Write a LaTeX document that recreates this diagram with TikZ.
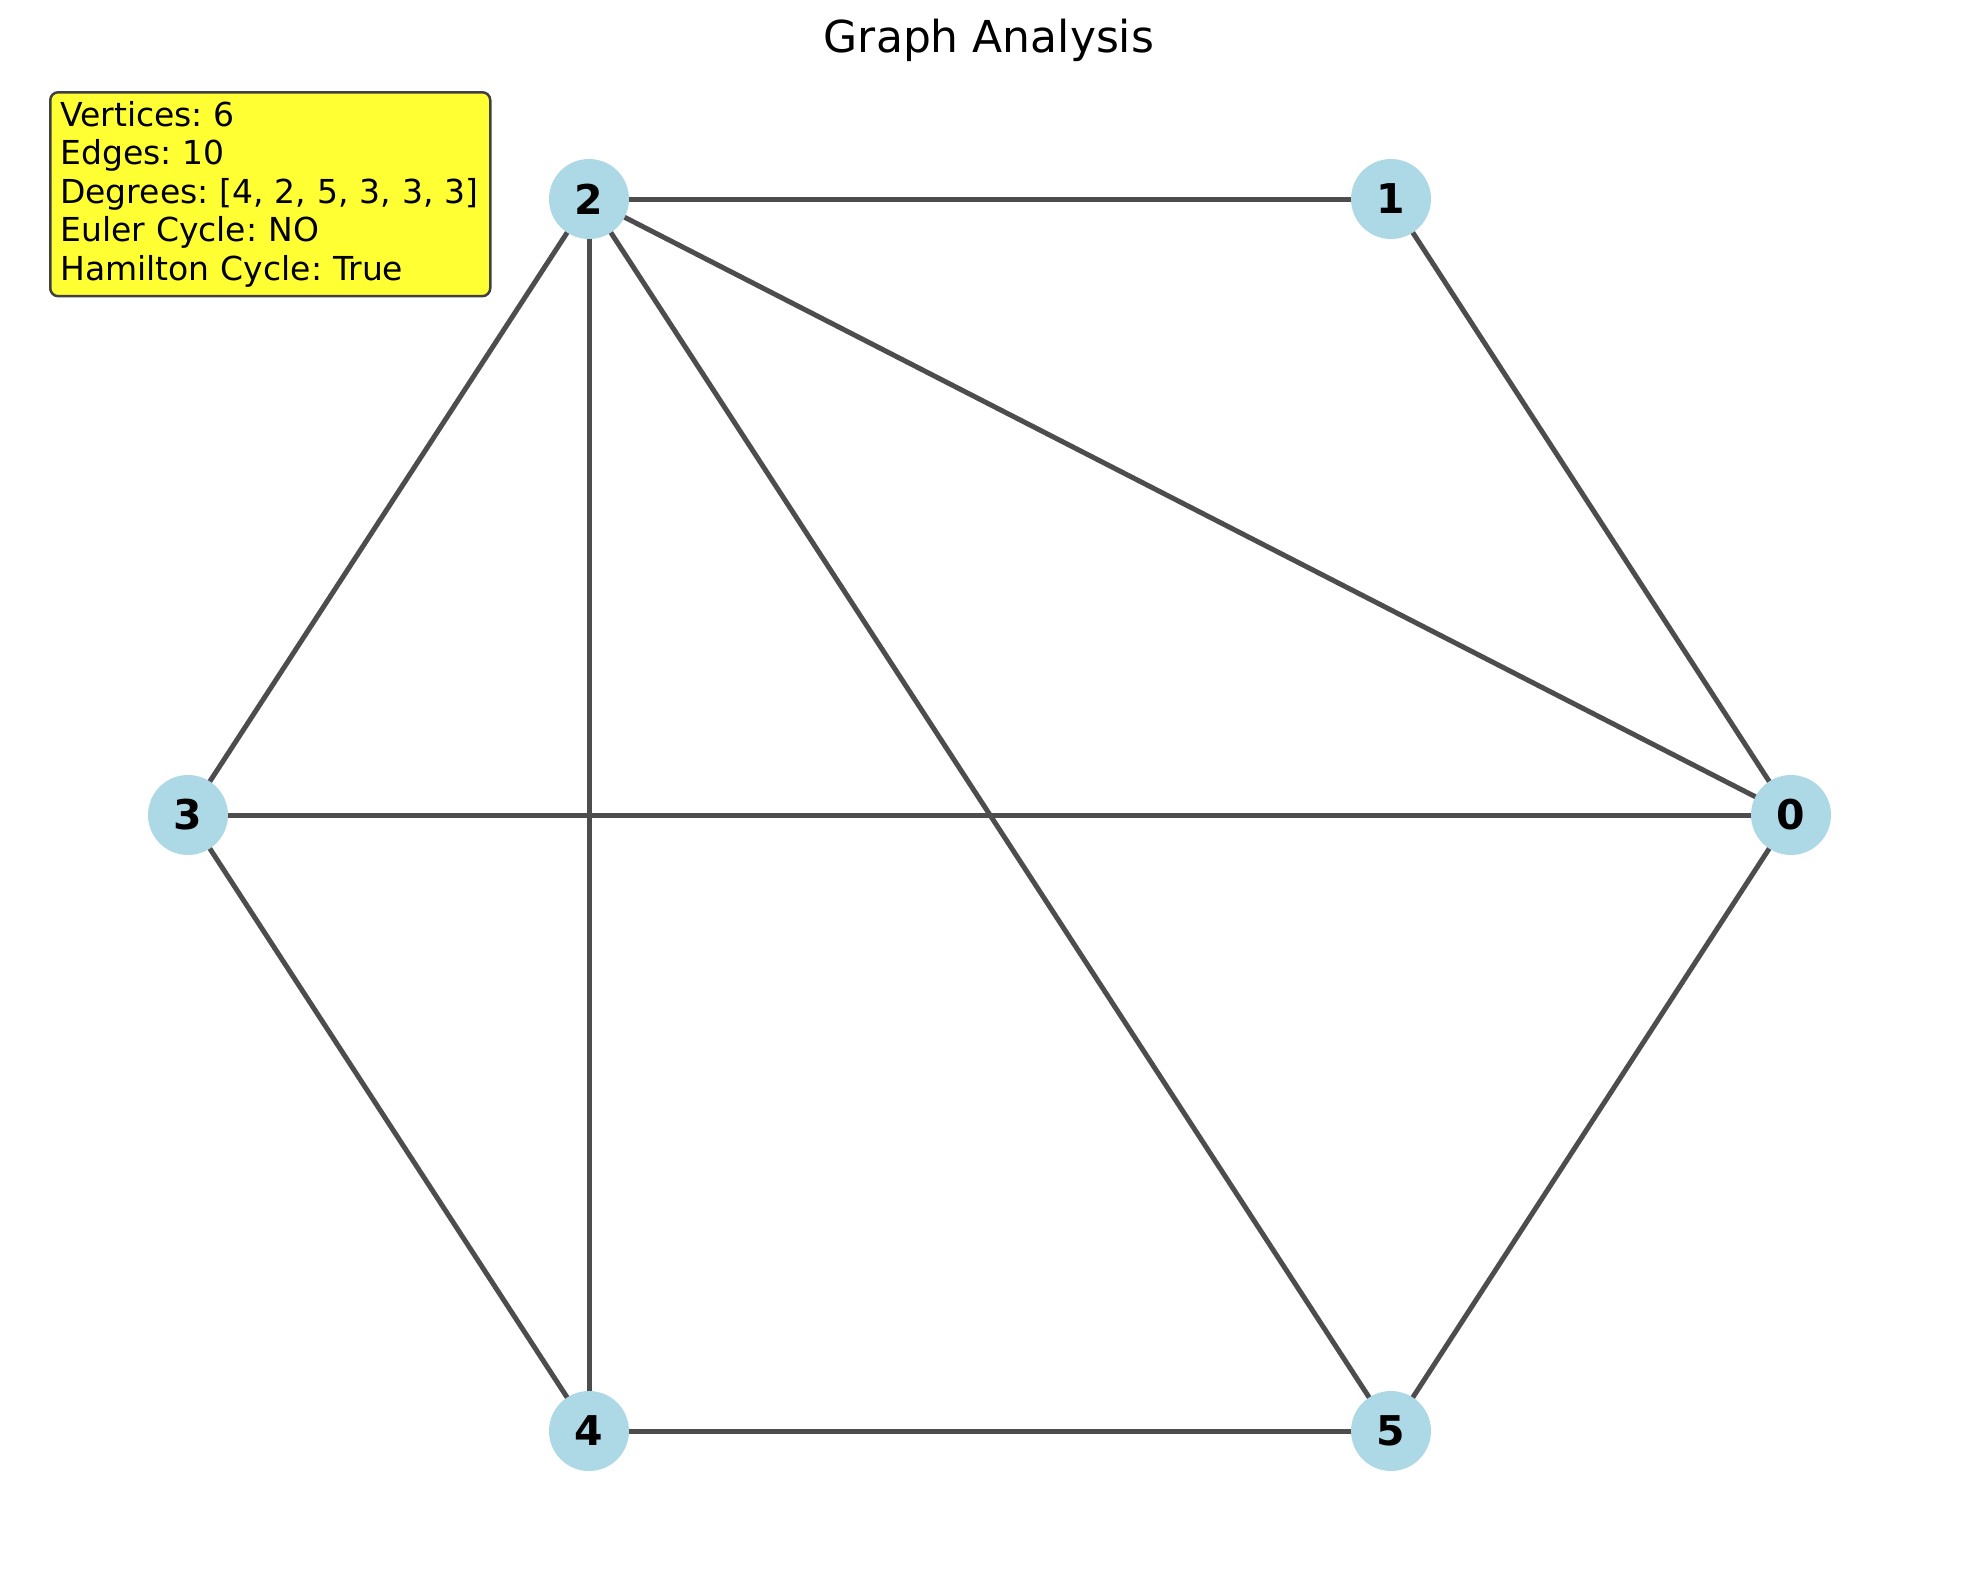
\documentclass[tikz,border=0pt]{standalone}
\usepackage{fontspec}
\setmainfont{DejaVu Sans}
\frenchspacing
\pgfdeclarelayer{bg}
\pgfsetlayers{bg,main}
\definecolor{nodeblue}{RGB}{173,216,230}
\definecolor{edgegray}{RGB}{77,77,77}
\definecolor{boxyellow}{RGB}{255,255,51}
\definecolor{boxborder}{RGB}{64,64,64}
\tikzset{
  vert/.style={circle, fill=nodeblue, minimum size=80pt, inner sep=0pt, font=\fontsize{41}{41}\selectfont\bfseries},
  edge/.style={draw=edgegray, line width=5pt},
  infobox/.style={draw=boxborder, fill=boxyellow, line width=2.5pt, rounded corners=8pt, align=left, anchor=north west, inner xsep=10pt, inner ysep=9pt, font=\fontsize{33}{38.5}\selectfont, text width=420pt},
}
\begin{document}
\begin{tikzpicture}[x=1pt,y=-1pt]
\useasboundingbox (0,0) rectangle (1979,1582);
\node[font=\fontsize{44}{44}\selectfont] (title) at (989,40) {Graph Analysis};
\node[vert] (n0) at (1791,815) {0};
\node[vert] (n1) at (1391,199) {1};
\node[vert] (n2) at (589,199) {2};
\node[vert] (n3) at (188,815) {3};
\node[vert] (n4) at (589,1431) {4};
\node[vert] (n5) at (1391,1431) {5};
\begin{pgfonlayer}{bg}
\draw[edge] (n2.center) -- (n1.center);
\draw[edge] (n2.center) -- (n0.center);
\draw[edge] (n2.center) -- (n3.center);
\draw[edge] (n2.center) -- (n4.center);
\draw[edge] (n2.center) -- (n5.center);
\draw[edge] (n1.center) -- (n0.center);
\draw[edge] (n3.center) -- (n0.center);
\draw[edge] (n3.center) -- (n4.center);
\draw[edge] (n4.center) -- (n5.center);
\draw[edge] (n5.center) -- (n0.center);
\end{pgfonlayer}
\node[infobox] (info) at (49,91) {Vertices: 6\\Edges: 10\\Degrees: [4, 2, 5, 3, 3, 3]\\Euler Cycle: NO\\Hamilton Cycle: True};
\end{tikzpicture}
\end{document}
